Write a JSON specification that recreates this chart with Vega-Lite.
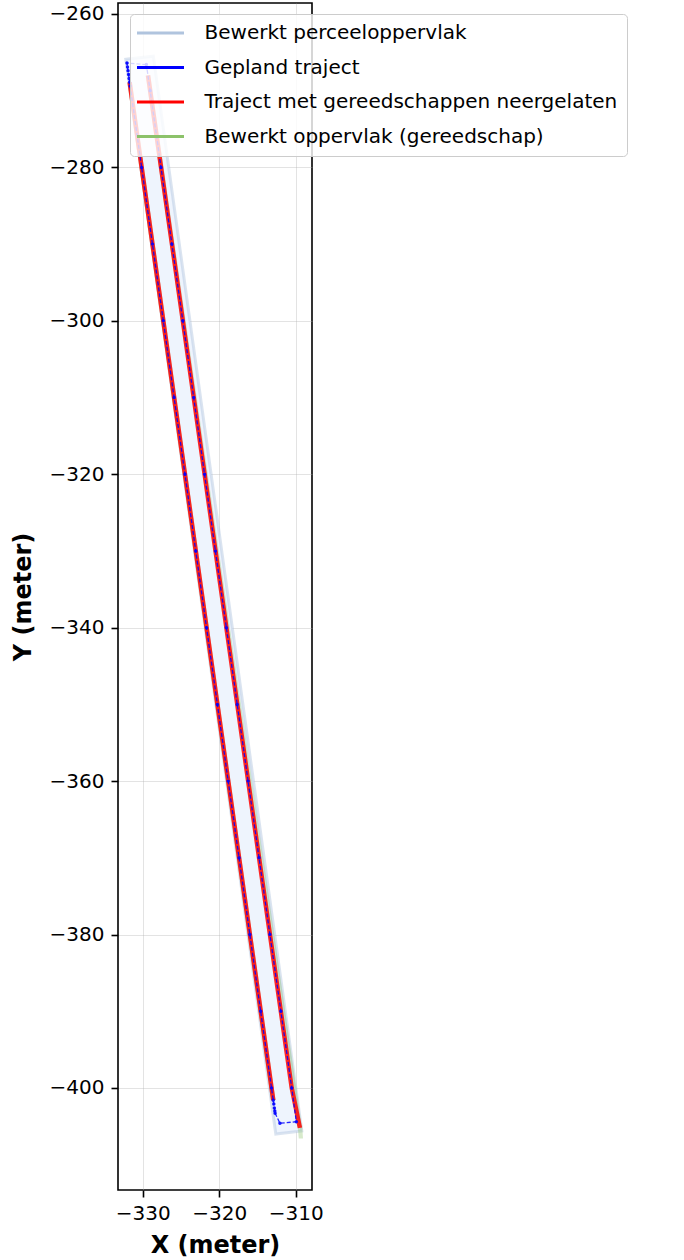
{
  "$schema": "https://vega.github.io/schema/vega-lite/v6.json",
  "width": 194,
  "height": 1187,
  "autosize": {"type": "none"},
  "padding": {"left": 118, "top": 3, "right": 372, "bottom": 70},
  "background": "white",
  "config": {
    "font": "DejaVu Sans",
    "view": {"stroke": "black", "strokeWidth": 1.6},
    "axis": {
      "domain": false,
      "grid": true,
      "gridColor": "#b0b0b0",
      "gridOpacity": 0.35,
      "gridWidth": 1,
      "ticks": true,
      "tickColor": "black",
      "tickSize": 7,
      "tickWidth": 1.6,
      "labelFont": "DejaVu Sans",
      "labelFontSize": 20,
      "labelColor": "black",
      "titleFont": "DejaVu Sans",
      "titleFontSize": 24,
      "titleFontWeight": "bold",
      "titleColor": "black"
    }
  },
  "data": {
    "values": [
      {"s": "Bewerkt perceeloppervlak", "g": "perceel", "o": 1, "x": -332.2, "y": -265.9},
      {"s": "Bewerkt perceeloppervlak", "g": "perceel", "o": 2, "x": -328.6, "y": -265.5},
      {"s": "Bewerkt perceeloppervlak", "g": "perceel", "o": 3, "x": -309.2, "y": -405.6},
      {"s": "Bewerkt perceeloppervlak", "g": "perceel", "o": 4, "x": -312.6, "y": -406.0},

      {"s": "Bewerkt oppervlak (gereedschap)", "g": "tool1", "o": 1, "x": -332.0, "y": -268.9},
      {"s": "Bewerkt oppervlak (gereedschap)", "g": "tool1", "o": 2, "x": -331.4, "y": -268.9},
      {"s": "Bewerkt oppervlak (gereedschap)", "g": "tool1", "o": 3, "x": -312.63, "y": -401.6},
      {"s": "Bewerkt oppervlak (gereedschap)", "g": "tool1", "o": 4, "x": -313.23, "y": -401.6},
      {"s": "Bewerkt oppervlak (gereedschap)", "g": "tool2", "o": 1, "x": -329.6, "y": -268.0},
      {"s": "Bewerkt oppervlak (gereedschap)", "g": "tool2", "o": 2, "x": -329.0, "y": -268.0},
      {"s": "Bewerkt oppervlak (gereedschap)", "g": "tool2", "o": 3, "x": -309.2, "y": -405.0},
      {"s": "Bewerkt oppervlak (gereedschap)", "g": "tool2", "o": 4, "x": -309.8, "y": -405.0},
      {"s": "Bewerkt oppervlak (gereedschap)", "g": "tool3", "o": 1, "x": -309.75, "y": -404.9},
      {"s": "Bewerkt oppervlak (gereedschap)", "g": "tool3", "o": 2, "x": -309.15, "y": -404.9},
      {"s": "Bewerkt oppervlak (gereedschap)", "g": "tool3", "o": 3, "x": -309.05, "y": -406.6},
      {"s": "Bewerkt oppervlak (gereedschap)", "g": "tool3", "o": 4, "x": -309.6, "y": -406.6},

      {"s": "Traject met gereedschappen neergelaten", "g": "red1", "o": 1, "x": -331.7, "y": -268.9},
      {"s": "Traject met gereedschappen neergelaten", "g": "red1", "o": 2, "x": -312.93, "y": -401.6},
      {"s": "Traject met gereedschappen neergelaten", "g": "red2", "o": 1, "x": -329.3, "y": -268.0},
      {"s": "Traject met gereedschappen neergelaten", "g": "red2", "o": 2, "x": -310.52, "y": -400.0},
      {"s": "Traject met gereedschappen neergelaten", "g": "red2", "o": 3, "x": -309.45, "y": -405.2},

      {"s": "Gepland traject", "g": "plan", "o": 1, "x": -329.51, "y": -266.6},
      {"s": "Gepland traject", "g": "plan", "o": 2, "x": -332.05, "y": -266.4},
      {"s": "Gepland traject", "g": "plan", "o": 3, "x": -331.98, "y": -266.9},
      {"s": "Gepland traject", "g": "plan", "o": 4, "x": -331.91, "y": -267.4},
      {"s": "Gepland traject", "g": "plan", "o": 5, "x": -331.84, "y": -267.9},
      {"s": "Gepland traject", "g": "plan", "o": 6, "x": -331.77, "y": -268.4},
      {"s": "Gepland traject", "g": "plan", "o": 7, "x": -331.70, "y": -268.9},
      {"s": "Gepland traject", "g": "plan", "o": 8, "x": -331.63, "y": -269.4},
      {"s": "Gepland traject", "g": "plan", "o": 9, "x": -330.13, "y": -280},
      {"s": "Gepland traject", "g": "plan", "o": 10, "x": -328.72, "y": -290},
      {"s": "Gepland traject", "g": "plan", "o": 11, "x": -327.30, "y": -300},
      {"s": "Gepland traject", "g": "plan", "o": 12, "x": -325.89, "y": -310},
      {"s": "Gepland traject", "g": "plan", "o": 13, "x": -324.47, "y": -320},
      {"s": "Gepland traject", "g": "plan", "o": 14, "x": -323.06, "y": -330},
      {"s": "Gepland traject", "g": "plan", "o": 15, "x": -321.65, "y": -340},
      {"s": "Gepland traject", "g": "plan", "o": 16, "x": -320.23, "y": -350},
      {"s": "Gepland traject", "g": "plan", "o": 17, "x": -318.82, "y": -360},
      {"s": "Gepland traject", "g": "plan", "o": 18, "x": -317.40, "y": -370},
      {"s": "Gepland traject", "g": "plan", "o": 19, "x": -315.99, "y": -380},
      {"s": "Gepland traject", "g": "plan", "o": 20, "x": -314.58, "y": -390},
      {"s": "Gepland traject", "g": "plan", "o": 21, "x": -313.16, "y": -400},
      {"s": "Gepland traject", "g": "plan", "o": 22, "x": -312.93, "y": -401.6},
      {"s": "Gepland traject", "g": "plan", "o": 23, "x": -312.86, "y": -402.1},
      {"s": "Gepland traject", "g": "plan", "o": 24, "x": -312.79, "y": -402.6},
      {"s": "Gepland traject", "g": "plan", "o": 25, "x": -312.73, "y": -403.0},
      {"s": "Gepland traject", "g": "plan", "o": 26, "x": -312.69, "y": -403.3},
      {"s": "Gepland traject", "g": "plan", "o": 27, "x": -312.06, "y": -404.6},
      {"s": "Gepland traject", "g": "plan", "o": 28, "x": -309.92, "y": -404.4},
      {"s": "Gepland traject", "g": "plan", "o": 29, "x": -310.52, "y": -400},
      {"s": "Gepland traject", "g": "plan", "o": 30, "x": -311.94, "y": -390},
      {"s": "Gepland traject", "g": "plan", "o": 31, "x": -313.37, "y": -380},
      {"s": "Gepland traject", "g": "plan", "o": 32, "x": -314.79, "y": -370},
      {"s": "Gepland traject", "g": "plan", "o": 33, "x": -316.22, "y": -360},
      {"s": "Gepland traject", "g": "plan", "o": 34, "x": -317.64, "y": -350},
      {"s": "Gepland traject", "g": "plan", "o": 35, "x": -319.06, "y": -340},
      {"s": "Gepland traject", "g": "plan", "o": 36, "x": -320.49, "y": -330},
      {"s": "Gepland traject", "g": "plan", "o": 37, "x": -321.91, "y": -320},
      {"s": "Gepland traject", "g": "plan", "o": 38, "x": -323.33, "y": -310},
      {"s": "Gepland traject", "g": "plan", "o": 39, "x": -324.75, "y": -300},
      {"s": "Gepland traject", "g": "plan", "o": 40, "x": -326.18, "y": -290},
      {"s": "Gepland traject", "g": "plan", "o": 41, "x": -327.60, "y": -280},
      {"s": "Gepland traject", "g": "plan", "o": 42, "x": -329.02, "y": -270},
      {"s": "Gepland traject", "g": "plan", "o": 43, "x": -329.45, "y": -267.0}
    ]
  },
  "encoding": {
    "x": {
      "field": "x", "type": "quantitative",
      "scale": {"domain": [-333.22, -307.87], "nice": false, "zero": false},
      "axis": {"title": "X (meter)", "values": [-330, -320, -310], "labelExpr": "replace(format(datum.value, 'd'), '-', '\u2212')", "labelPadding": 6, "titlePadding": 10}
    },
    "y": {
      "field": "y", "type": "quantitative",
      "scale": {"domain": [-413.3, -258.57], "nice": false, "zero": false},
      "axis": {"title": "Y (meter)", "values": [-400, -380, -360, -340, -320, -300, -280, -260], "labelExpr": "replace(format(datum.value, 'd'), '-', '\u2212')", "labelPadding": 7, "titlePadding": 14}
    },
    "order": {"field": "o", "type": "quantitative"},
    "detail": {"field": "g"},
    "color": {
      "field": "s", "type": "nominal",
      "scale": {"domain": ["Bewerkt perceeloppervlak", "Gepland traject", "Traject met gereedschappen neergelaten", "Bewerkt oppervlak (gereedschap)"], "range": ["#b0c4de", "#0000ff", "#ff0000", "#8cc26a"]},
      "legend": {
        "title": null,
        "orient": "none",
        "legendX": 12,
        "legendY": 11,
        "padding": 9,
        "rowPadding": 14.5,
        "symbolSize": 196,
        "symbolType": "M-3.357,0H3.357",
        "symbolStrokeWidth": 3,
        "symbolOffset": 11.5,
        "labelOffset": 34,
        "labelFont": "DejaVu Sans",
        "labelFontSize": 20,
        "labelColor": "black",
        "labelLimit": 1000,
        "strokeColor": "#cccccc",
        "fillColor": "rgba(255,255,255,0.8)",
        "cornerRadius": 4
      }
    }
  },
  "layer": [
    {
      "transform": [{"filter": "datum.g === 'perceel'"}],
      "mark": {"type": "line", "interpolate": "linear-closed", "fill": "#eef4fd", "strokeWidth": 3, "strokeOpacity": 0.45}
    },
    {
      "transform": [{"filter": "indexof(datum.g, 'tool') === 0"}],
      "mark": {"type": "line", "interpolate": "linear-closed", "fill": "#8cc26a", "fillOpacity": 0.35, "strokeWidth": 0}
    },
    {
      "transform": [{"filter": "indexof(datum.g, 'red') === 0"}],
      "mark": {"type": "line", "strokeWidth": 4.5, "opacity": 0.85}
    },
    {
      "transform": [{"filter": "datum.g === 'plan'"}],
      "mark": {"type": "line", "strokeWidth": 1.3, "strokeDash": [4, 2], "opacity": 0.85}
    },
    {
      "transform": [{"filter": "datum.g === 'plan'"}],
      "mark": {"type": "point", "filled": true, "size": 12, "opacity": 0.9},
      "encoding": {"color": {"value": "#0000ff"}}
    }
  ]
}
